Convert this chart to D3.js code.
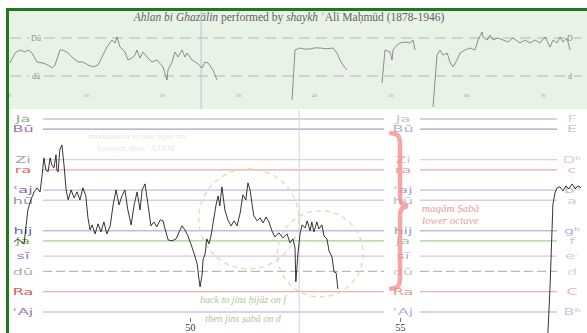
<!DOCTYPE html>
<html><head><meta charset="utf-8">
<script src="https://cdn.jsdelivr.net/npm/d3@7"></script>
<style>body{margin:0;background:#fff}svg{display:block}</style>
</head><body><svg id="c" width="587" height="333"></svg>
<script>
// ---------------- data ----------------
const noteNames    = ["Ja","Bū","Zi","ra","ʿaj","hū","hij","ja","sī","dū","Ra","ʿAj"];
const noteWestern  = ["F","E","D","c","b","a","g","f","e","d","C","B"];
const noteAccident = ["","","b","","b","","b","","-","","","b"];
const noteSemitone = [15,14,11,10,8,7,4,3,1.5,0,-2,-4];
const noteLabelCol = ["#8fae8f","#9474b4","#a4a4a4","#e26464","#8462aa","#949494","#6666b4","#72b054","#a676c2","#acacac","#e25454","#9676c2"];
const noteLineCol  = ["#c2cec2","#ae9fc2","#d4d4d4","#f2a4a4","#cdb6d8","#d2d2d2","#bcbde2","#a6d096","#e6bedc","#bababa","#f4acac","#d4bfe4"];
const noteDashed   = [false,false,false,false,false,false,false,false,false,true,false,false];

const topRefNames   = ["Dū","dū"];
const topRefWestern = ["D","d"];
const topRefSemi    = [12,0];
const topTicks      = [0,10,20,30,40,50,60,70];
const lowerTicks    = [50,55];
const topCursor     = 25.1;
const lowerCursor   = 52.6;

// pitch curve, overview (time units, semitones above d)
const topSeg1 = [[0,4.11],[0.66,7.26],[1.31,8.21],[1.97,7.58],[2.36,8.21],[2.89,7.26],[3.55,4.42],[4.33,4.11],[4.99,3.47],[5.52,2.53],[5.91,3.47],[6.57,8.21],[6.96,8.21],[7.62,7.26],[8.27,5.68],[8.93,4.42],[9.59,4.42],[10.24,3.47],[10.9,2.84],[11.56,3.47],[12.21,6.63],[12.74,9.16],[13.4,11.37],[13.79,10.42],[14.05,12.32],[14.45,9.16],[15.1,7.58],[15.5,5.05],[16.02,5.68],[16.42,6.63],[16.68,8.21],[17.07,5.68],[17.47,7.58],[17.99,6.0],[18.65,4.42],[19.31,5.05],[20.09,2.84],[20.62,-1.26],[20.75,1.89],[21.28,4.42],[21.67,7.58],[22.07,6.0],[22.59,8.21],[22.98,6.0],[23.25,7.26],[23.9,5.05],[24.56,4.11],[25.22,2.53],[25.61,4.42],[26.01,4.11],[26.66,1.89],[27.19,-1.26]];
const topSeg2 = [[37.04,-7.58],[37.43,8.21],[38.09,8.84],[38.7,8.5],[39.4,8.53],[40.1,8.9],[40.72,8.84],[41.5,8.6],[42.42,8.84],[42.95,7.26],[43.34,5.05],[43.74,3.47],[44.26,1.89]];
const topSeg3 = [[48.86,-2.21],[49.25,8.21],[49.91,7.58],[50.17,5.05],[50.3,8.21],[50.83,9.79],[51.22,10.42],[51.88,10.74],[52.54,10.42],[52.93,11.37],[53.19,8.21]];
const topSeg4 = [[55.56,-9.79],[56.08,6.63],[56.48,8.21],[56.87,6.63],[57.4,7.26],[57.79,4.42],[58.18,2.84],[58.71,5.05],[59.1,7.26],[59.76,8.21],[60.42,8.84],[61.07,8.21],[61.47,11.37],[61.99,13.9],[62.12,12.32],[62.65,11.37],[63.04,12.95],[63.44,11.37],[64.09,12.0],[64.75,11.37],[65.41,10.74],[66.06,12.0],[66.98,10.42],[67.64,11.37],[68.3,10.42],[68.95,11.37],[69.61,10.42],[70.27,12.32],[70.92,9.16],[71.32,11.37],[71.84,10.42],[72.24,12.32],[72.63,10.74],[73.16,12.0],[73.55,8.21]];

// pitch curve, detail (seconds, semitones above dū)
const lowSeg1 = [[45.81,2.9],[45.9,3.2],[46.05,2.71],[46.1,4.58],[46.14,6.05],[46.21,7.04],[46.29,7.82],[46.36,8.22],[46.43,7.82],[46.48,9.5],[46.52,11.17],[46.57,9.99],[46.62,9.79],[46.67,11.17],[46.71,10.48],[46.76,10.19],[46.81,11.47],[46.83,9.99],[46.86,9.79],[46.9,11.96],[46.95,12.45],[47.0,10.48],[47.05,8.02],[47.1,7.04],[47.17,8.02],[47.24,7.23],[47.31,7.82],[47.38,7.04],[47.45,8.22],[47.52,7.43],[47.57,5.27],[47.62,4.08],[47.67,4.58],[47.74,3.69],[47.81,4.68],[47.88,3.89],[47.95,4.87],[48.02,3.69],[48.1,4.48],[48.17,6.55],[48.24,8.02],[48.31,6.55],[48.38,7.43],[48.45,8.02],[48.52,6.05],[48.6,4.58],[48.67,6.55],[48.74,7.82],[48.81,6.05],[48.86,8.02],[48.93,8.61],[49.0,6.55],[49.07,4.48],[49.14,4.87],[49.21,4.38],[49.29,5.07],[49.36,4.97],[49.4,4.28],[49.48,3.1],[49.57,3.0],[49.67,3.2],[49.74,3.89],[49.81,4.48],[49.88,4.08],[49.95,3.49],[50.02,2.71],[50.1,1.72],[50.17,0.74],[50.21,-0.64],[50.24,-1.53],[50.29,-0.25],[50.31,1.13],[50.36,1.72],[50.4,3.2],[50.45,2.71],[50.5,3.49],[50.55,4.77],[50.62,6.55],[50.67,7.43],[50.71,6.45],[50.76,8.32],[50.83,6.05],[50.9,5.07],[50.98,4.48],[51.05,4.97],[51.12,4.48],[51.19,5.66],[51.26,7.53],[51.33,7.04],[51.38,8.71],[51.43,8.02],[51.48,6.55],[51.52,5.46],[51.6,4.97],[51.67,5.27],[51.74,4.77],[51.81,5.36],[51.88,4.87],[51.95,3.99],[52.02,3.4],[52.12,3.79],[52.21,3.3],[52.31,3.69],[52.38,2.81],[52.45,3.2],[52.5,2.31],[52.52,-1.03],[52.57,1.72],[52.62,3.69],[52.67,4.58],[52.74,4.28],[52.79,4.97],[52.86,3.99],[52.9,4.87],[52.95,3.89],[53.02,4.87],[53.07,4.18],[53.14,4.58],[53.19,3.49],[53.26,3.2],[53.31,2.02],[53.38,1.43],[53.43,-0.05],[53.48,-0.15],[53.52,-1.72]];
const lowSeg2 = [[58.52,-6.2],[58.57,-1.82],[58.62,4.08],[58.64,6.55],[58.69,7.73],[58.74,8.22],[58.81,8.32],[58.88,7.92],[58.95,8.42],[59.02,8.12],[59.1,8.61],[59.17,8.12],[59.24,8.42],[59.31,8.22]];

// ---------------- drawing ----------------
const svg = d3.select("#c");
const topX = d3.scaleLinear().domain([0,70]).range([10,543]);
const topY = d3.scaleLinear().domain([0,12]).range([76,38]);
const lowX = d3.scaleLinear().domain([50,55]).range([190,400]);
const lowY = d3.scaleLinear().domain([-4,15]).range([312,119]);
const serif = "'Liberation Serif','DejaVu Serif',serif";
const sans  = "'DejaVu Sans',sans-serif";

const defs = svg.append("defs");
defs.append("clipPath").attr("id","clipTop").append("rect").attr("x",9).attr("y",10).attr("width",578).attr("height",99);
defs.append("clipPath").attr("id","clipLow").append("rect").attr("x",9).attr("y",110).attr("width",578).attr("height",223);

// top panel background
svg.append("rect").attr("x",8).attr("y",9).attr("width",579).attr("height",100).attr("fill","#e9f2e7");

// title
const title = svg.append("text").attr("x",289).attr("y",21).attr("text-anchor","middle")
  .attr("font-family",serif).attr("font-size",11.5).attr("fill","#626262");
title.append("tspan").attr("font-style","italic").text("Ahlan bi Ghazālin");
title.append("tspan").text(" performed by ");
title.append("tspan").attr("font-style","italic").text("shaykh");
title.append("tspan").text(" ʿAlī Maḥmūd (1878-1946)");

// top reference lines
topRefSemi.forEach((s,i)=>{
  const y = topY(s);
  svg.append("line").attr("x1",10).attr("x2",587).attr("y1",y).attr("y2",y)
    .attr("stroke","#a9b1a8").attr("stroke-width",0.9).attr("stroke-dasharray","11,6");
  svg.append("rect").attr("x",29).attr("y",y-4).attr("width",14).attr("height",8).attr("fill","#e9f2e7");
  svg.append("text").attr("x",36).attr("y",y).attr("dy","0.35em").attr("text-anchor","middle")
    .attr("font-family",serif).attr("font-size",8).attr("fill","#8a8a8a").text(topRefNames[i]);
  svg.append("rect").attr("x",565).attr("y",y-4).attr("width",9).attr("height",8).attr("fill","#e9f2e7");
  svg.append("text").attr("x",570).attr("y",y).attr("dy","0.35em").attr("text-anchor","middle")
    .attr("font-family",serif).attr("font-size",8).attr("fill","#8a8a8a").text(topRefWestern[i]);
});

// top ticks
topTicks.forEach(v=>{
  svg.append("text").attr("x",topX(v)).attr("y",97).attr("text-anchor","middle")
    .attr("font-family",serif).attr("font-size",5).attr("fill","#999").text(v);
});

// top cursor
svg.append("line").attr("x1",topX(topCursor)).attr("x2",topX(topCursor)).attr("y1",10).attr("y2",109)
  .attr("stroke","#a9c6dc").attr("stroke-width",1);

// top curve
const topLine = d3.line().x(d=>topX(d[0])).y(d=>topY(d[1]));
const gTop = svg.append("g").attr("clip-path","url(#clipTop)");
[topSeg1,topSeg2,topSeg3,topSeg4].forEach(seg=>{
  gTop.append("path").attr("d",topLine(seg)).attr("fill","none").attr("stroke","#747474").attr("stroke-width",0.8);
});

// lower panel: note lines
const leftX1=43, leftX2=384, rightX1=420, rightX2=557;
noteSemitone.forEach((s,i)=>{
  const y = lowY(s);
  [[leftX1,leftX2],[rightX1,rightX2]].forEach(([a,b])=>{
    svg.append("line").attr("x1",a).attr("x2",b).attr("y1",y).attr("y2",y)
      .attr("stroke",noteLineCol[i]).attr("stroke-width",1.3)
      .attr("stroke-dasharray",noteDashed[i]?"9,4":null);
  });
});

// lower cursor
svg.append("line").attr("x1",lowX(lowerCursor)).attr("x2",lowX(lowerCursor)).attr("y1",110).attr("y2",333)
  .attr("stroke","#c9d3e6").attr("stroke-width",1);

// faint annotation near top
svg.append("text").attr("x",137).attr("y",139).attr("text-anchor","middle")
  .attr("font-family",serif).attr("font-size",9).attr("fill","#e8e8e8").text("modulation to jins ḥijāz on");
svg.append("text").attr("x",136).attr("y",151).attr("text-anchor","middle")
  .attr("font-family",serif).attr("font-size",9).attr("fill","#e8e8e8").text("ḥusaynī, then ʿAJAM");

// labels
function label(x, y, txt, acc, col, op, size){
  const t = svg.append("text").attr("transform",`translate(${x},${y}) scale(1.6,0.9)`)
    .attr("dy","0.36em").attr("text-anchor","middle").attr("font-family",sans)
    .attr("font-size",size).attr("fill",col).attr("opacity",op);
  t.append("tspan").text(txt);
  if(acc) t.append("tspan").attr("font-size",size*0.6).attr("dy","-0.55em").text(acc);
}
noteSemitone.forEach((s,i)=>{
  const y = lowY(s);
  label(23, y, noteNames[i], "", noteLabelCol[i], 1, 10);
  label(403, y, noteNames[i], "", noteLabelCol[i], 0.62, 10);
  label(572, y, noteWestern[i], noteAccident[i], noteLabelCol[i], 0.45, 10);
});

// dashed circles
const circles = [[51.4,5.17,50],[53.1,1.72,43]];
circles.forEach(c=>{
  svg.append("circle").attr("cx",lowX(c[0])).attr("cy",lowY(c[1])).attr("r",c[2])
    .attr("fill","none").attr("stroke","#cfe0ae").attr("stroke-width",1.2).attr("stroke-dasharray","5,4");
});

// lower curve
const lowLine = d3.line().x(d=>lowX(d[0])).y(d=>lowY(d[1]));
const gLow = svg.append("g").attr("clip-path","url(#clipLow)");
[lowSeg1,lowSeg2].forEach(seg=>{
  gLow.append("path").attr("d",lowLine(seg)).attr("fill","none").attr("stroke","#1e1e1e").attr("stroke-width",0.9);
});

// brace
const yT=lowY(13.6), yM=lowY(6.4), yB=lowY(-1.7);
svg.append("path").attr("d",
  `M391,${yT} C398,${yT} 400,${yT+3} 400,${yT+12} L400,${yM-10} C400,${yM-3} 403,${yM} 408,${yM} C403,${yM} 400,${yM+3} 400,${yM+10} L400,${yB-12} C400,${yB-3} 398,${yB} 391,${yB}`)
  .attr("fill","none").attr("stroke","#f28a8a").attr("stroke-width",4.5).attr("stroke-linecap","round").attr("opacity",0.75);

// annotations
svg.append("text").attr("x",422).attr("y",212).attr("font-family",serif).attr("font-style","italic")
  .attr("font-size",11).attr("fill","#eb9c9c").text("maqām Ṣabā");
svg.append("text").attr("x",422).attr("y",224).attr("font-family",serif).attr("font-style","italic")
  .attr("font-size",11).attr("fill","#eb9c9c").text("lower octave");
svg.append("text").attr("x",243).attr("y",303).attr("text-anchor","middle").attr("font-family",serif).attr("font-style","italic")
  .attr("font-size",10).attr("fill","#aac89a").text("back to jins ḥijāz on f");
svg.append("text").attr("x",243).attr("y",322).attr("text-anchor","middle").attr("font-family",serif).attr("font-style","italic")
  .attr("font-size",10).attr("fill","#aac89a").text("then jins ṣabā on d");

// lower axis
const ax = svg.append("g").attr("transform","translate(0,318)")
  .call(d3.axisBottom(lowX).tickValues(lowerTicks).tickSize(4).tickFormat(d3.format("d")));
ax.select(".domain").remove();
ax.selectAll("line").attr("stroke","#777");
ax.selectAll("text").attr("font-family",serif).attr("font-size",10).attr("fill","#333").attr("y",6);

// frame
svg.append("line").attr("x1",6).attr("x2",587).attr("y1",9.5).attr("y2",9.5).attr("stroke","#1d7a1d").attr("stroke-width",3);
svg.append("line").attr("x1",7.5).attr("x2",7.5).attr("y1",8).attr("y2",333).attr("stroke","#1d7a1d").attr("stroke-width",3);
</script></body></html>
